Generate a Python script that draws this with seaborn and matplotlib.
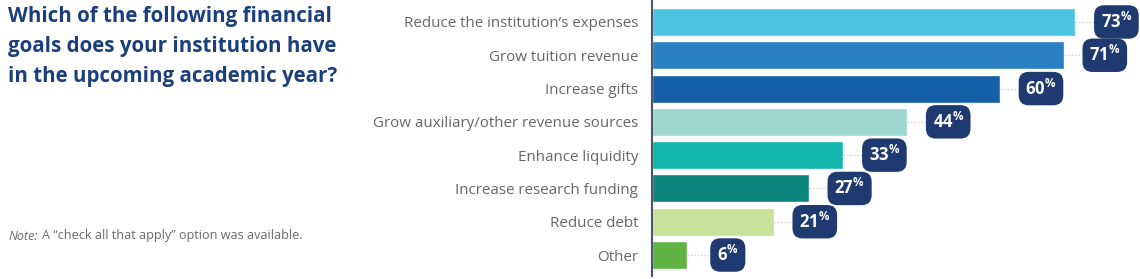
import matplotlib
matplotlib.use("Agg")
import matplotlib.pyplot as plt
import seaborn as sns
import pandas as pd

categories = ["Reduce the institution\u2019s expenses", "Grow tuition revenue", "Increase gifts",
              "Grow auxiliary/other revenue sources", "Enhance liquidity",
              "Increase research funding", "Reduce debt", "Other"]
values = [73, 71, 60, 44, 33, 27, 21, 6]
colors = ["#4bc3e1", "#2880c3", "#1560a9", "#9dd7ce", "#12b6ab", "#0d867f", "#c7e29b", "#62b346"]
title = "Which of the following financial\ngoals does your institution have\nin the upcoming academic year?"

sns.set_theme(style="white")
plt.rcParams['font.family'] = ['Open Sans', 'DejaVu Sans']
plt.rcParams['mathtext.fontset'] = 'custom'
plt.rcParams['mathtext.rm'] = 'Open Sans:bold'
plt.rcParams['mathtext.it'] = 'Open Sans:bold'
plt.rcParams['mathtext.bf'] = 'Open Sans:bold'

df = pd.DataFrame({"cat": categories, "val": values})

W, H = 1140, 279
fig = plt.figure(figsize=(W / 100, H / 100), dpi=100)
ax_left, ax_right = 652, 1140
ax = fig.add_axes([ax_left / W, 3 / H, (ax_right - ax_left) / W, (H - 3) / H])

sns.barplot(data=df, y="cat", x="val", hue="cat", palette=colors, legend=False,
            orient="h", width=0.84, ax=ax, saturation=1)

px_per_unit = 5.80
ax.set_xlim(0, (ax_right - ax_left) / px_per_unit)
ax.set_ylim(7.63, -0.66)

navy = "#1e3a70"
for i, v in enumerate(values):
    ax.plot([v, v + 22 / px_per_unit], [i, i], ls=(0, (1, 1.5)), color="#cccccc", lw=1, zorder=1)
    ax.text(v + 41 / px_per_unit, i, f"{v}$^{{\\%}}$", ha="center", va="center",
            color="white", fontsize=12, fontweight="bold",
            bbox=dict(boxstyle="round,pad=0.4,rounding_size=0.6", fc=navy, ec="none"))

ax.set_xlabel("")
ax.set_ylabel("")
ax.set_xticks([])
ax.tick_params(axis="y", length=0, pad=10, labelsize=10.9, labelcolor="#666666")
for s in ["top", "right", "bottom"]:
    ax.spines[s].set_visible(False)
ax.spines["left"].set_color("#4a5568")
ax.spines["left"].set_linewidth(1.5)

fig.text(8 / W, 1 - 6 / H, title, ha="left", va="top", fontsize=14.8, fontweight="bold",
         color="#1b3f7c", linespacing=1.55)
note_y = 1 - 236 / H
t1 = fig.text(8 / W, note_y, "Note:", ha="left", va="center", fontsize=9.1,
              style="italic", color="#6a6a6a")
fig.canvas.draw()
bb = t1.get_window_extent()
fig.text((bb.x1 + 4) / W, note_y, "A \u201ccheck all that apply\u201d option was available.",
         ha="left", va="center", fontsize=9.1, color="#6a6a6a")

fig.savefig("out.png", dpi=100)
